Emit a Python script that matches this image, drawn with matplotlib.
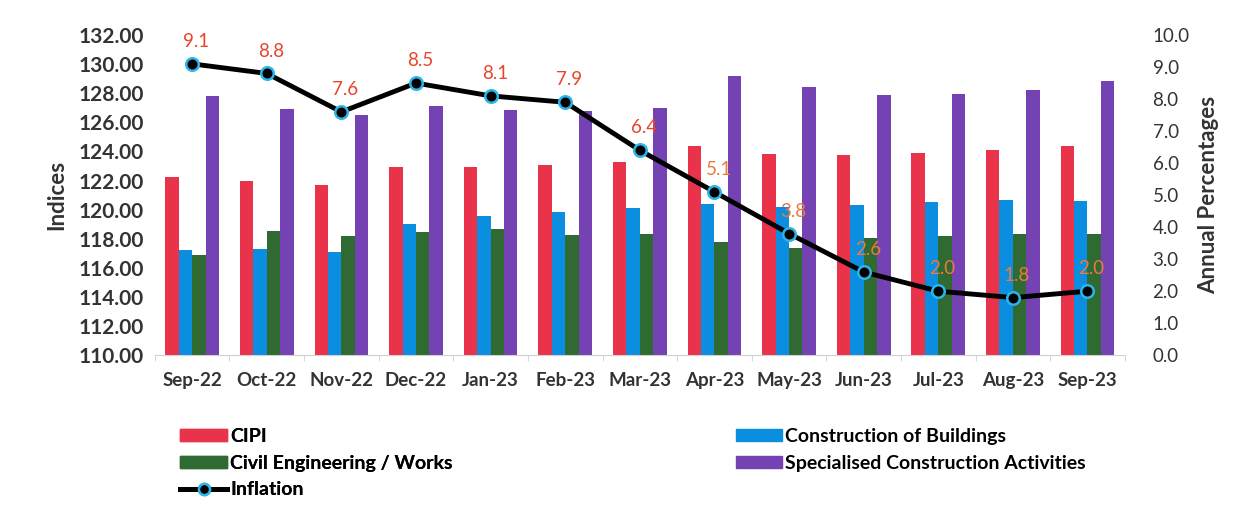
import matplotlib
matplotlib.use("Agg")
import matplotlib.pyplot as plt
from matplotlib.lines import Line2D
from matplotlib.patches import Patch
import numpy as np

plt.rcParams['font.family'] = ['Lato', 'DejaVu Sans']

months = ['Sep-22', 'Oct-22', 'Nov-22', 'Dec-22', 'Jan-23', 'Feb-23', 'Mar-23',
          'Apr-23', 'May-23', 'Jun-23', 'Jul-23', 'Aug-23', 'Sep-23']
cipi = [122.25, 122.0, 121.7, 122.9, 122.95, 123.05, 123.25,
        124.35, 123.85, 123.75, 123.9, 124.1, 124.35]
buildings = [117.25, 117.3, 117.1, 119.05, 119.6, 119.85, 120.1,
             120.4, 120.2, 120.35, 120.5, 120.7, 120.6]
civil = [116.9, 118.55, 118.2, 118.45, 118.7, 118.25, 118.35,
         117.75, 117.4, 118.05, 118.2, 118.3, 118.3]
special = [127.8, 126.9, 126.5, 127.1, 126.85, 126.8, 127.0,
           129.2, 128.4, 127.9, 127.95, 128.2, 128.85]
inflation = [9.1, 8.8, 7.6, 8.5, 8.1, 7.9, 6.4, 5.1, 3.8, 2.6, 2.0, 1.8, 2.0]

series = [cipi, buildings, civil, special]
names = ['CIPI', 'Construction of Buildings', 'Civil Engineering / Works',
         'Specialised Construction Activities']
colors = ['#e8334a', '#0b8de0', '#2f6a33', '#7442b2']

fig = plt.figure(figsize=(12.34, 5.31), dpi=100)
ax = fig.add_axes([0.1255, 0.331, 0.786, 0.603])
ax2 = ax.twinx()

x = np.arange(len(months))
w = 0.18
for i, (vals, c) in enumerate(zip(series, colors)):
    ax.bar(x + (i - 1.5) * w, np.array(vals) - 110, width=w, bottom=110,
           color=c, zorder=2)

ax.set_ylim(110, 132)
ax.set_yticks(np.arange(110, 133, 2))
ax.set_yticklabels([f'{v:.2f}' for v in np.arange(110, 133, 2)],
                   fontsize=15, fontweight='bold', color='#333333')
ax.set_xlim(-0.5, len(months) - 0.5)
ax.set_xticks(x)
ax.set_xticklabels(months, fontsize=13.5, fontweight='bold', color='#333333')
ax.set_xticks(np.arange(-0.5, len(months)), minor=True)
ax.tick_params(axis='x', which='major', length=0, pad=12)
ax.tick_params(axis='x', which='minor', length=4, color='#d0d0d0')
ax.tick_params(axis='y', length=0, pad=8)
ax.set_ylabel('Indices', fontsize=16, fontweight='bold', color='#333333', labelpad=8)
for s in ['top', 'left', 'right']:
    ax.spines[s].set_visible(False)
    ax2.spines[s].set_visible(False)
ax.spines['bottom'].set_color('#d0d0d0')
ax2.spines['bottom'].set_visible(False)

ax2.plot(x, inflation, color='black', lw=3.5, marker='o', markersize=9,
         markerfacecolor='black', markeredgecolor='#2bb5e8', markeredgewidth=1.8,
         zorder=3)
for xi, v in zip(x, inflation):
    ax2.annotate(f'{v:.1f}', (xi, v), xytext=(3, 10), textcoords='offset points',
                 ha='center', va='bottom', fontsize=13.5,
                 color='#e8452c' if v > 6 else '#eb7a3c')
ax2.set_ylim(0, 10)
ax2.set_yticks(np.arange(0, 10.1, 1))
ax2.set_yticklabels([f'{v:.1f}' for v in np.arange(0, 10.1, 1)],
                    fontsize=13.5, color='#333333')
ax2.tick_params(axis='y', length=0, pad=20)
ax2.set_ylabel('Annual Percentages', fontsize=16, fontweight='bold',
               color='#333333', labelpad=6)

line_handle = Line2D([], [], color='black', lw=3.5, marker='o', markersize=8,
                     markerfacecolor='black', markeredgecolor='#2bb5e8',
                     markeredgewidth=1.8)
leg_kw = dict(loc='upper left', frameon=False, handlelength=2.4, handleheight=0.55,
              handletextpad=0.15, labelspacing=0.5,
              prop={'weight': 'bold', 'size': 14})
leg1 = fig.legend([Patch(color=colors[0]), Patch(color=colors[2]), line_handle],
                  [names[0], names[2], 'Inflation'],
                  bbox_to_anchor=(0.132, 0.227), **leg_kw)
fig.add_artist(leg1)
fig.legend([Patch(color=colors[1]), Patch(color=colors[3])],
           [names[1], names[3]], bbox_to_anchor=(0.582, 0.227), **leg_kw)

fig.savefig('out.png', dpi=100, facecolor='white')
